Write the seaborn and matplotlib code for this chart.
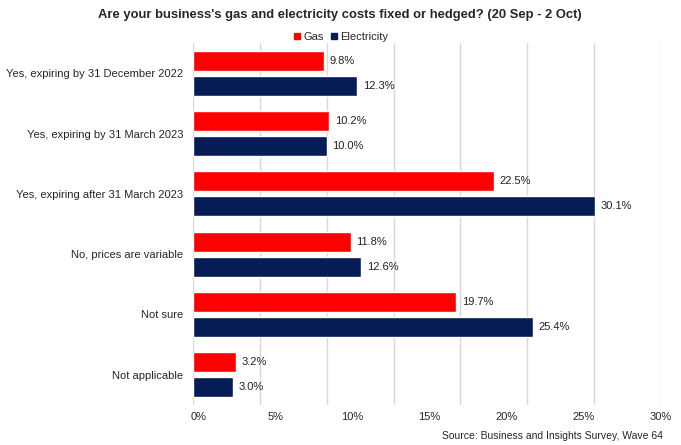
import numpy as np
import pandas as pd
import seaborn as sns
import matplotlib.pyplot as plt

categories = [
    "Yes, expiring by 31 December 2022",
    "Yes, expiring by 31 March 2023",
    "Yes, expiring after 31 March 2023",
    "No, prices are variable",
    "Not sure",
    "Not applicable",
]
gas = [9.8, 10.2, 22.5, 11.8, 19.7, 3.2]
electricity = [12.3, 10.0, 30.1, 12.6, 25.4, 3.0]
series = ["Gas", "Electricity"]
tick_labels = ["0%", "5%", "10%", "15%", "20%", "25%", "30%"]

df = pd.DataFrame({
    "category": categories * 2,
    "value": gas + electricity,
    "series": ["Gas"] * len(gas) + ["Electricity"] * len(electricity),
})

sns.set_theme(style="white")
plt.rcParams["font.family"] = ["Liberation Sans", "DejaVu Sans"]

fig = plt.figure(figsize=(6.81, 4.45), dpi=100)
ax = fig.add_axes([193 / 681, 1 - 405 / 445, (661 - 193) / 681, (405 - 43) / 445])

sns.barplot(data=df, y="category", x="value", hue="series", orient="h",
            palette={"Gas": "#FF0000", "Electricity": "#061C54"},
            width=0.83, gap=0.2, order=categories, hue_order=series,
            ax=ax, legend=False, saturation=1)

for cont in ax.containers:
    ax.bar_label(cont, fmt="%.1f%%", padding=4, fontsize=8, color="#222222")

# gridlines every 5%, labels spread across the full width as in the original
ax.set_xlim(0, 35)
ax.set_xticks(np.arange(0, 36, 5))
ax.set_xticklabels([])
ax.set_xticks(np.linspace(0.4, 34.95, 7), minor=True)
ax.set_xticklabels(tick_labels, minor=True, fontsize=8)
ax.tick_params(axis="x", which="both", length=0, pad=5)
ax.tick_params(axis="y", length=0, pad=7, labelsize=8)
ax.grid(axis="x", which="major", color="#D9D9D9", linewidth=1)
ax.set_axisbelow(True)
for s in ax.spines.values():
    s.set_visible(False)
ax.set_xlabel("")
ax.set_ylabel("")

handles = [plt.Rectangle((0, 0), 1, 1, color=c) for c in ["#FF0000", "#061C54"]]
fig.legend(handles, series, loc="center", bbox_to_anchor=(341 / 681, 1 - 37 / 445),
           ncol=2, frameon=False, fontsize=8, handlelength=0.55, handleheight=0.55,
           handletextpad=0.3, columnspacing=0.6)

fig.text(340 / 681, 1 - 15 / 445,
         "Are your business's gas and electricity costs fixed or hedged? (20 Sep - 2 Oct)",
         ha="center", va="center", fontsize=9.4, fontweight="bold")
fig.text(663 / 681, 1 - 436 / 445, "Source: Business and Insights Survey, Wave 64",
         ha="right", va="center", fontsize=7.5)

fig.savefig("out.png", dpi=100)
